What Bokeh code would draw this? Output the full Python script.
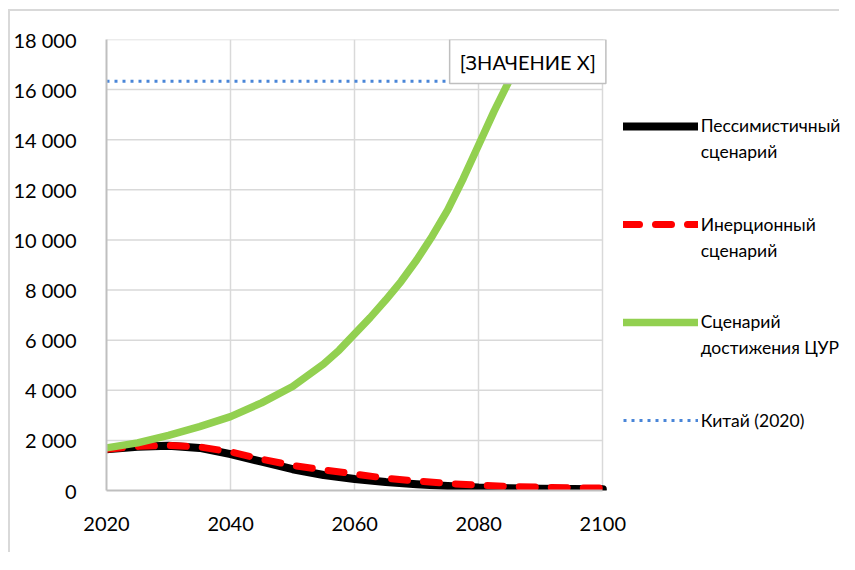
from bokeh.plotting import figure
from bokeh.models import Legend, LegendItem, Label, FixedTicker, Range1d
from bokeh.embed import file_html
from bokeh.resources import INLINE

years = [2020, 2025, 2030, 2035, 2040, 2045, 2050, 2055, 2060, 2065, 2070, 2075, 2080, 2085, 2090, 2095, 2100]
pessimistic = [1650, 1750, 1790, 1700, 1450, 1150, 850, 620, 460, 340, 250, 180, 120, 90, 70, 55, 45]
inertial = [1650, 1760, 1800, 1740, 1540, 1250, 1000, 820, 660, 490, 380, 280, 210, 160, 130, 110, 95]
sdg_years = [2020, 2025, 2030, 2035, 2040, 2045, 2050, 2055, 2057.5, 2060, 2062.5, 2065, 2067.5, 2070,
             2072.5, 2075, 2077.5, 2080, 2082.5, 2085]
sdg = [1700, 1900, 2200, 2550, 2950, 3500, 4150, 5050, 5600, 6250, 6900, 7600, 8350, 9200,
       10150, 11200, 12450, 13800, 15150, 16400]
china_2020 = 16330

x_ticks = [2020, 2040, 2060, 2080, 2100]
y_ticks = [0, 2000, 4000, 6000, 8000, 10000, 12000, 14000, 16000, 18000]
y_tick_labels = ["0", "2 000", "4 000", "6 000", "8 000", "10 000", "12 000", "14 000", "16 000", "18 000"]
series_first = ["Пессимистичный", "Инерционный", "Сценарий", "Китай (2020)"]
series_second = ["сценарий", "сценарий", "достижения ЦУР", None]
data_label_text = "[ЗНАЧЕНИЕ X]"

FONT = "Lato"

# layout (pixels); the chart-area border sits at x=8..10, y=9..11 of the picture
MX, MY, BW = 8, 9, 2
OX, OY = MX + BW, MY + BW
W, H = 831, 543                    # canvas size (border drawn outside)
LEFT, TOP = 105 - OX, 39 - OY
FRAME_H = 451
BOTTOM = H - TOP - FRAME_H
PLOT_W = 497                       # width of the 2020..2100 data area
FRAME_W = W - LEFT                 # frame extends to the right edge to host the legend
x_end = x_ticks[0] + (x_ticks[-1] - x_ticks[0]) * FRAME_W / PLOT_W

p = figure(width=W, height=H, output_backend="svg", toolbar_location=None,
           x_range=Range1d(x_ticks[0], x_end), y_range=Range1d(y_ticks[0], y_ticks[-1]),
           min_border_left=LEFT, min_border_top=TOP, min_border_right=0, min_border_bottom=BOTTOM,
           styles={"border-left": f"{BW}px solid #d9d9d9", "border-top": f"{BW}px solid #d9d9d9",
                   "margin-left": f"{MX}px", "margin-top": f"{MY}px"})
p.outline_line_color = None
p.background_fill_color = "white"
p.border_fill_color = "white"

for ax in (p.xaxis[0], p.yaxis[0]):
    ax.axis_line_color = "#bfbfbf"
    ax.axis_line_width = 2
    ax.major_tick_line_color = None
    ax.minor_tick_line_color = None
    ax.major_label_text_font = FONT
    ax.major_label_text_font_size = "20px"
    ax.major_label_text_color = "#000000"

p.xaxis.ticker = FixedTicker(ticks=x_ticks)
p.xaxis.bounds = (x_ticks[0], x_ticks[-1])
p.yaxis.ticker = FixedTicker(ticks=y_ticks)
p.yaxis.major_label_overrides = {t: l for t, l in zip(y_ticks, y_tick_labels)}
p.xaxis.major_label_overrides = {t: str(t) for t in x_ticks}
p.yaxis.major_label_standoff = 24
p.xaxis.major_label_standoff = 20

p.xgrid.grid_line_color = "#d9d9d9"
p.xgrid.grid_line_width = 1.5
p.ygrid.visible = False
# horizontal gridlines limited to the 2020..2100 data area
p.segment(x0=[x_ticks[0]] * (len(y_ticks) - 1), x1=[x_ticks[-1]] * (len(y_ticks) - 1),
          y0=y_ticks[1:], y1=y_ticks[1:], line_color="#d9d9d9", line_width=1.5)

r_black = p.line(years, pessimistic, line_color="#000000", line_width=8, line_cap="round", line_join="round")
r_red = p.line(years, inertial, line_color="#ff0000", line_width=7, line_dash="16 16", line_cap="round", line_join="round")
r_green = p.line(sdg_years, sdg, line_color="#92d050", line_width=7.5, line_cap="round", line_join="round")
r_blue = p.line([x_ticks[0], x_ticks[-1]], [china_2020, china_2020], line_color="#4a86d8", line_width=3, line_dash="3 5")
r_blank = p.line(x=[], y=[], line_alpha=0)

lab = Label(x=sdg_years[-1], y=sdg[-1], text=data_label_text, text_align="center", text_baseline="bottom",
            x_offset=18, y_offset=-4, text_font=FONT, text_font_size="20px", text_color="#000000",
            border_line_color="#bfbfbf", border_line_width=1.5, background_fill_color="white",
            padding=10)
p.add_layout(lab)

LINE_H = 26
entry_centers = [125.7, 224, 321.7, 420]   # picture y of each entry's first line
for first, second, r, cy in zip(series_first, series_second, [r_black, r_red, r_green, r_blue], entry_centers):
    items = [LegendItem(label=first, renderers=[r])]
    if second:
        items.append(LegendItem(label=second, renderers=[r_blank]))
    n = len(items)
    bottom_from_frame = (39 + FRAME_H) - (cy - LINE_H / 2 + n * LINE_H)
    lg = Legend(items=items, location=(516.7, bottom_from_frame), orientation="vertical",
                label_text_font=FONT, label_text_font_size="17.5px", label_text_color="#000000",
                glyph_width=75, glyph_height=LINE_H, label_height=LINE_H, label_standoff=3, spacing=0,
                padding=0, margin=0, border_line_color=None, background_fill_alpha=0)
    p.add_layout(lg, "center")

open("out.html", "w").write(file_html(p, INLINE))
